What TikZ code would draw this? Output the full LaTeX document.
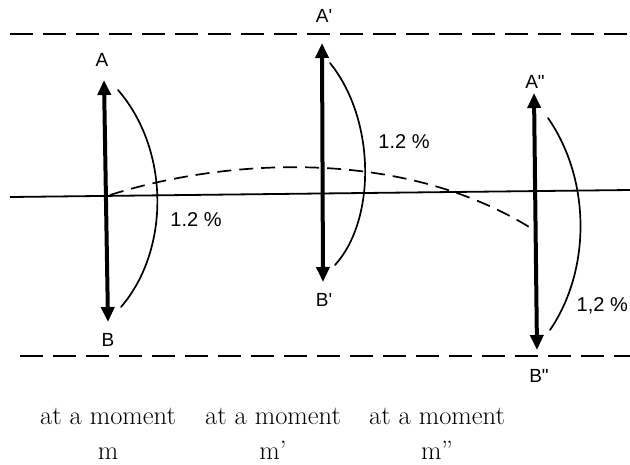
\documentclass[tikz,border=0pt]{standalone}
\usepackage{fontspec}
\newfontfamily\labelfont{Liberation Sans}
\usetikzlibrary{arrows.meta}

\begin{document}
\begin{tikzpicture}[x=1pt,y=-1pt,line join=round,>={Triangle[width=13pt,length=15pt]}]
	\tikzset{every node/.style={inner sep=0pt,font=\labelfont\fontsize{19}{19}\selectfont},
		rod/.style={<->,line width=4pt},
		bow/.style={line width=1.7pt,line cap=round},
		level/.style={line width=1.8pt,dash pattern=on 23pt off 10pt},
		pct/.style={font=\labelfont\fontsize{20}{20}\selectfont},
		moment/.style={align=center,font=\fontsize{26.5}{35}\selectfont}}
	\useasboundingbox (0,0) rectangle (630,464);
	% limits and axis
	\coordinate (t0) at (10,34);  \coordinate (t1) at (630,34);
	\coordinate (b0) at (20,356); \coordinate (b1) at (630,356);
	\coordinate (h0) at (10,197); \coordinate (h1) at (630,190);
	\draw[level] (t0)--(t1);
	\draw[level] (b0)--(b1);
	\draw[line width=1.8pt] (h0)--(h1);
	% the three positions
	\coordinate (A) at (104,80);   \coordinate (B) at (108,322);
	\coordinate (A1) at (322,43);  \coordinate (B1) at (323,282);
	\coordinate (A2) at (534,93);  \coordinate (B2) at (537,350);
	\draw[rod] (A)--(B);
	\draw[rod] (A1)--(B1);
	\draw[rod] (A2)--(B2);
	\node (lA) at (102,60) {A};
	\node (lB) at (108,340) {B};
	\node (lA1) at (324,16) {A\textquotesingle};
	\node (lB1) at (324,300) {B\textquotesingle};
	\node (lA2) at (535,82) {A\textquotedbl};
	\node (lB2) at (539,376) {B\textquotedbl};
	% arcs
	\draw[bow] (118,90) .. controls (170,150) and (170,250) .. (121,307);
	\draw[bow] (330,63) .. controls (376,120) and (376,220) .. (335,265);
	\draw[bow] (548,118) .. controls (591,180) and (591,270) .. (550,330);
	\node[pct] (p0) at (196,220) {1.2 \%};
	\node[pct] (p1) at (404,142) {1.2 \%};
	\node[pct,anchor=east] (p2) at (628,306) {1,2 \%};
	% path of the middle
	\coordinate (m0) at (110,195); \coordinate (m2) at (534,230);
	\draw[line width=1.7pt,dash pattern=on 14pt off 8pt] (m0) .. controls (220,160) and (400,145) .. (m2);
	% captions
	\node[moment] (c0) at (108,434) {at a moment\\m};
	\node[moment] (c1) at (273,434) {at a moment\\m'};
	\node[moment] (c2) at (437,434) {at a moment\\m''};
\end{tikzpicture}
\end{document}
